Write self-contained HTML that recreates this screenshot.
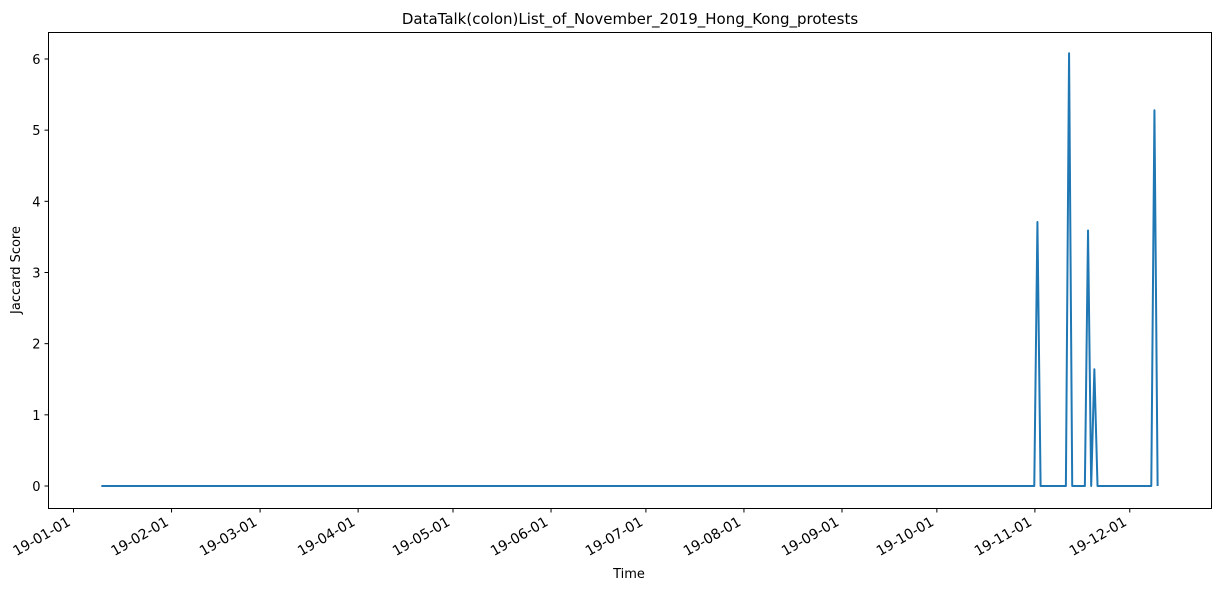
<!DOCTYPE html>
<html><head><meta charset="utf-8"><style>
html,body{margin:0;padding:0;background:#fff;}
svg text{font-family:"DejaVu Sans","Liberation Sans",sans-serif;fill:#000;}
</style></head><body>
<svg id="chart" width="1220" height="591" xmlns="http://www.w3.org/2000/svg">
<text x="630" y="24" text-anchor="middle" font-size="15">DataTalk(colon)List_of_November_2019_Hong_Kong_protests</text>
<g id="axes"></g>
<text x="629" y="578" text-anchor="middle" font-size="13">Time</text>
<text transform="translate(20,270) rotate(-90)" text-anchor="middle" font-size="13">Jaccard Score</text>
</svg>
<script>
const days = [8.8, 303.8, 304.8, 305.8, 313.8, 314.8, 315.8, 319.8, 320.8, 321.8, 322.8, 323.8, 340.8, 341.8, 342.8];
const values = [0, 0, 3.71, 0, 0, 6.08, 0, 0, 3.59, 0, 1.64, 0, 0, 5.28, 0];
const yTicks = [0, 1, 2, 3, 4, 5, 6];
const xTickDays = [0, 31, 59, 90, 120, 151, 181, 212, 243, 273, 304, 334];
const xTickLabels = ["19-01-01","19-02-01","19-03-01","19-04-01","19-05-01","19-06-01","19-07-01","19-08-01","19-09-01","19-10-01","19-11-01","19-12-01"];

const L = 48.5, R = 1211.5, T = 32.5, B = 508.5;
function xs(d) { return 73.5 + d * 3.1625; }
function ys(v) { return 486 - v * 71.17; }
const NS = "http://www.w3.org/2000/svg";
const g = document.getElementById('axes');
function mk(tag, attrs) { const e = document.createElementNS(NS, tag); for (const k in attrs) e.setAttribute(k, attrs[k]); g.appendChild(e); return e; }

yTicks.forEach(v => {
  const y = ys(v);
  const t = mk('line', {x1: L - 4, x2: L, y1: y, y2: y, stroke: '#000', 'stroke-width': 1});
  
  
  const lb = mk('text', {x: L - 8, y: y + 5, 'text-anchor': 'end', 'font-size': 13});
  lb.textContent = v;
  
  
});
xTickDays.forEach((d, i) => {
  const x = xs(d);
  const t = mk('line', {x1: x, x2: x, y1: B, y2: B + 4, stroke: '#000', 'stroke-width': 1});
  
  
  const ax = x - 2, ay = B + 16;
  const lb = mk('text', {x: ax, y: ay, 'text-anchor': 'end', 'font-size': 14, transform: `rotate(-30 ${ax} ${ay})`});
  lb.textContent = xTickLabels[i];
  
  
});
const pts = days.map((d, i) => xs(d).toFixed(2) + ',' + ys(values[i]).toFixed(2)).join(' ');
const line = mk('polyline', {points: pts, fill: 'none', stroke: '#1f77b4', 'stroke-width': 2, 'stroke-linejoin': 'round'});


const frame = mk('rect', {x: L, y: T, width: R - L, height: B - T, fill: 'none', stroke: '#000', 'stroke-width': 1});


</script>
</body></html>
